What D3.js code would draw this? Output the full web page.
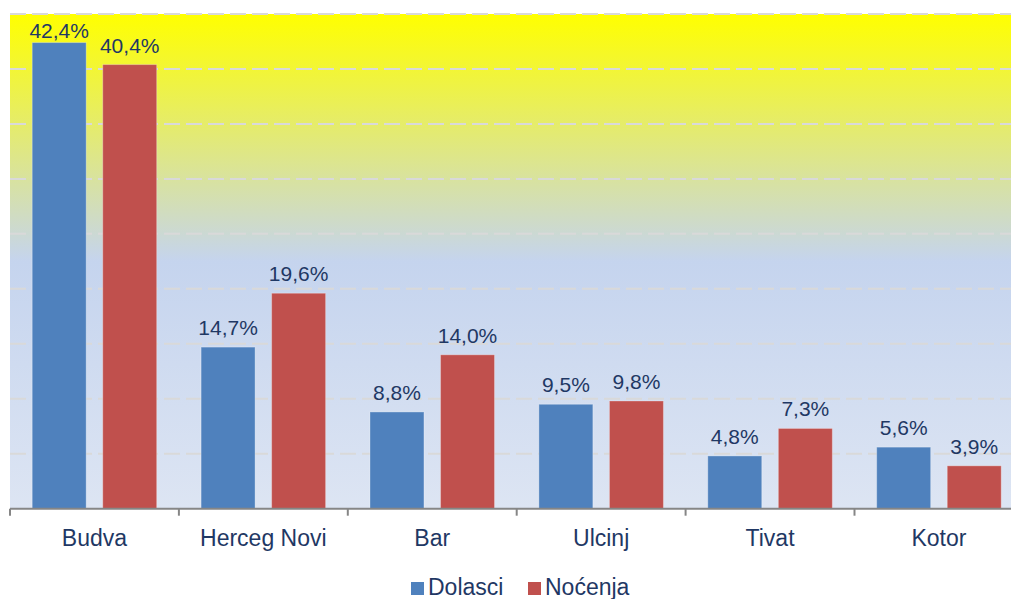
<!DOCTYPE html>
<html>
<head>
<meta charset="utf-8">
<script src="https://cdn.jsdelivr.net/npm/d3@7"></script>
<style>
  body { margin: 0; background: #fff; }
  text { font-family: "Liberation Sans", Arial, sans-serif; fill: #1f3864; }
</style>
</head>
<body>
<script>
// tourist arrivals / overnight stays share by municipality
var categories = ["Budva", "Herceg Novi", "Bar", "Ulcinj", "Tivat", "Kotor"];
var seriesNames = ["Dolasci", "Noćenja"];
var dolasci = [42.4, 14.7, 8.8, 9.5, 4.8, 5.6];
var nocenja = [40.4, 19.6, 14.0, 9.8, 7.3, 3.9];
var yTicks = [0, 5, 10, 15, 20, 25, 30, 35, 40, 45];
var colors = ["#4f81bd", "#c0504d"];

var width = 1011, height = 599;

var svg = d3.select("body").append("svg")
    .attr("width", width)
    .attr("height", height);

// plot area runs a bit past the right edge, like the original
var plotLeft = 10, plotRight = 1023.4, plotTop = 14, plotBottom = 508.7;

var x = d3.scaleBand()
    .domain(categories)
    .range([plotLeft, plotRight]);

var xSub = d3.scaleBand()
    .domain(seriesNames)
    .range([0, x.bandwidth()])
    .paddingInner(0.235)
    .paddingOuter(0.3145);

var y = d3.scaleLinear()
    .domain([0, 45])
    .range([plotBottom, plotTop]);

// background gradient, yellow on top fading to pale blue
var defs = svg.append("defs");
var grad = defs.append("linearGradient")
    .attr("id", "bg")
    .attr("x1", 0).attr("y1", 0).attr("x2", 0).attr("y2", 1);
grad.append("stop").attr("offset", "0%").attr("stop-color", "#ffff00");
grad.append("stop").attr("offset", "50%").attr("stop-color", "#c5d4ee");
grad.append("stop").attr("offset", "100%").attr("stop-color", "#dde5f3");

svg.append("rect")
    .attr("x", plotLeft)
    .attr("y", plotTop)
    .attr("width", plotRight - plotLeft)
    .attr("height", plotBottom - plotTop)
    .attr("fill", "url(#bg)");

// dashed gridlines
svg.append("g").selectAll("line")
    .data(yTicks.filter(function(d){ return d > 0; }))
    .enter()
    .append("line")
    .attr("x1", plotLeft)
    .attr("x2", plotRight)
    .attr("y1", function(d){ return y(d); })
    .attr("y2", function(d){ return y(d); })
    .attr("stroke", "#d9d9d9")
    .attr("stroke-width", 2)
    .attr("stroke-dasharray", "16,6");

var rows = categories.map(function(c, i){
  return {cat: c, vals: [dolasci[i], nocenja[i]]};
});

var fmt = function(v){ return d3.format(".1f")(v).replace(".", ",") + "%"; };

var groups = svg.selectAll(".cat")
    .data(rows)
    .enter()
    .append("g")
    .attr("class", "cat")
    .attr("transform", function(d){ return "translate(" + x(d.cat) + ",0)"; });

var bars = groups.selectAll(".bar")
    .data(function(d){
      return d.vals.map(function(v, j){ return {name: seriesNames[j], v: v, j: j}; });
    })
    .enter();

bars.append("rect")
    .attr("x", function(d){ return xSub(d.name); })
    .attr("y", function(d){ return y(d.v); })
    .attr("width", xSub.bandwidth())
    .attr("height", function(d){ return plotBottom - y(d.v); })
    .attr("fill", function(d){ return colors[d.j]; })
    .attr("stroke", "#ffffff")
    .attr("stroke-opacity", 0.3)
    .attr("stroke-width", 1);

// labels sit above the bar, but never above the plot top
bars.append("text")
    .attr("x", function(d){ return xSub(d.name) + xSub.bandwidth() / 2; })
    .attr("y", function(d){ return Math.max(y(d.v) - 12, plotTop + 24); })
    .attr("text-anchor", "middle")
    .style("font-size", "21px")
    .text(function(d){ return fmt(d.v); });

// x axis
var xAxis = svg.append("g");
xAxis.append("line")
    .attr("x1", plotLeft).attr("x2", plotRight)
    .attr("y1", plotBottom).attr("y2", plotBottom)
    .attr("stroke", "#868686")
    .attr("stroke-width", 2);

xAxis.selectAll(".tick")
    .data(categories)
    .enter()
    .append("line")
    .attr("x1", function(d){ return x(d); })
    .attr("x2", function(d){ return x(d); })
    .attr("y1", plotBottom)
    .attr("y2", plotBottom + 7)
    .attr("stroke", "#868686")
    .attr("stroke-width", 2);

xAxis.selectAll(".lbl")
    .data(categories)
    .enter()
    .append("text")
    .attr("x", function(d){ return x(d) + x.bandwidth() / 2; })
    .attr("y", 546)
    .attr("text-anchor", "middle")
    .style("font-size", "23px")
    .text(function(d){ return d; });

// legend
var legendX = [411, 528];
var legend = svg.selectAll(".legend")
    .data(seriesNames)
    .enter()
    .append("g")
    .attr("transform", function(d, i){ return "translate(" + legendX[i] + ",582)"; });

legend.append("rect")
    .attr("width", 13)
    .attr("height", 13)
    .attr("fill", function(d, i){ return colors[i]; });

legend.append("text")
    .attr("x", 17)
    .attr("y", 13)
    .style("font-size", "23px")
    .text(function(d){ return d; });
</script>
</body>
</html>
